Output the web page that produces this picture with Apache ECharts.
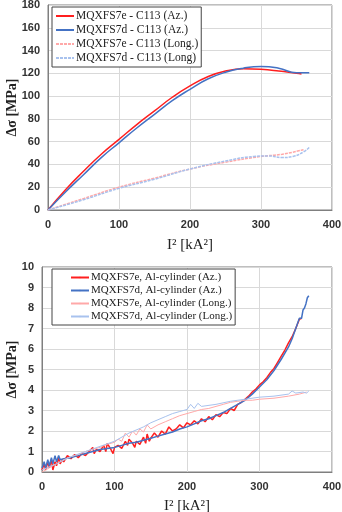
<!DOCTYPE html>
<html>
<head>
<meta charset="utf-8">
<script src="https://cdn.jsdelivr.net/npm/echarts@6/dist/echarts.min.js"></script>
<style>
html, body { margin: 0; padding: 0; background: #fff; }
#chart { width: 342px; height: 512px; }
</style>
</head>
<body>
<div id="chart"></div>
<script>
// 上图 C113
var topNames = ["MQXFS7e - C113 (Az.)", "MQXFS7d - C113 (Az.)", "MQXFS7e - C113 (Long.)", "MQXFS7d - C113 (Long)"];
var topRedAzX = [0, 25, 50, 75, 100, 125, 150, 175, 200, 225, 250, 275, 300, 325, 350, 357];
var topRedAzY = [0, 18, 34, 49, 62, 75, 87, 99, 109, 117, 122, 124, 123.5, 122, 120, 119.5];
var topBlueAzX = [0, 25, 50, 75, 100, 125, 150, 175, 200, 225, 250, 275, 300, 325, 350, 368];
var topBlueAzY = [0, 16, 31, 46, 59, 72, 84, 96, 106, 115, 121, 124.5, 126, 124.5, 120.5, 120.5];
var topRedLgX = [0, 50, 100, 150, 200, 250, 300, 330, 360];
var topRedLgY = [0, 10, 20, 28, 36, 42, 47, 49, 53];
var topBlueLgX = [0, 50, 100, 150, 200, 250, 290, 310, 330, 345, 360, 368];
var topBlueLgY = [0, 9, 19, 27, 36, 43, 47, 47.5, 46, 47, 51, 55];

// 下图 Al-cylinder
var botNames = ["MQXFS7e, Al-cylinder (Az.)", "MQXFS7d, Al-cylinder (Az.)", "MQXFS7e, Al-cylinder (Long.)", "MQXFS7d, Al-cylinder (Long.)"];
var botRedAzX = [0, 3, 5, 8, 10, 13, 15, 18, 20, 23, 25, 28, 30, 35, 40, 45, 50, 55, 60, 65, 70, 72, 75, 80, 85, 88, 90, 95, 98, 100, 105, 110, 115, 118, 120, 125, 128, 130, 135, 140, 143, 145, 148, 150, 155, 160, 165, 170, 175, 180, 185, 190, 195, 200, 205, 210, 215, 220, 225, 230, 235, 240, 245, 250, 255, 260, 265, 270, 275, 280, 285, 290, 295, 300, 305, 310, 315, 320, 325, 330, 335, 340, 345, 350, 355, 358];
var botRedAzY = [0.1, 0.4, 0.1, 0.5, 0.2, 0.6, 0.1, 0.5, 0.3, 0.7, 0.4, 0.6, 0.5, 0.8, 0.65, 0.85, 0.7, 0.9, 0.8, 1.0, 1.2, 0.9, 1.1, 1.0, 1.3, 1.0, 1.4, 1.1, 0.9, 1.2, 1.3, 1.15, 1.5, 1.3, 1.6, 1.4, 1.2, 1.5, 1.35, 1.7, 1.4, 1.85, 1.5, 1.65, 1.9, 1.7, 2.0, 1.85, 2.2, 2.0, 2.1, 2.3, 2.15, 2.4, 2.3, 2.5, 2.35, 2.6, 2.45, 2.7, 2.55, 2.8, 2.7, 2.9, 2.85, 3.1, 3.0, 3.3, 3.4, 3.55, 3.7, 3.9, 4.05, 4.25, 4.4, 4.6, 4.85, 5.05, 5.35, 5.65, 5.95, 6.3, 6.6, 7.0, 7.45, 7.5];
var botBlueAzX = [0, 3, 5, 8, 10, 13, 15, 18, 20, 23, 25, 30, 40, 50, 60, 70, 80, 90, 100, 110, 120, 130, 140, 150, 160, 170, 180, 190, 200, 210, 220, 230, 240, 250, 260, 270, 280, 290, 300, 310, 320, 330, 340, 345, 350, 355, 358, 360, 362, 364, 366, 368];
var botBlueAzY = [0.2, 0.5, 0.2, 0.6, 0.3, 0.7, 0.4, 0.8, 0.5, 0.8, 0.6, 0.65, 0.7, 0.8, 0.9, 1.0, 1.1, 1.15, 1.2, 1.3, 1.4, 1.45, 1.55, 1.65, 1.75, 1.85, 1.95, 2.1, 2.2, 2.35, 2.5, 2.6, 2.75, 2.9, 3.1, 3.3, 3.5, 3.8, 4.15, 4.5, 4.95, 5.5, 6.1, 6.5, 7.0, 7.5, 7.5, 7.9, 8.0, 8.2, 8.5, 8.6];
var botRedLgX = [0, 10, 20, 30, 40, 50, 60, 70, 80, 90, 100, 105, 110, 115, 120, 125, 130, 135, 140, 145, 150, 160, 170, 180, 190, 200, 210, 220, 230, 240, 250, 260, 270, 280, 290, 300, 320, 340, 355, 365];
var botRedLgY = [0, 0.2, 0.4, 0.6, 0.75, 0.85, 1.0, 1.1, 1.2, 1.35, 1.45, 1.6, 1.5, 1.9, 1.7, 2.0, 1.8, 2.1, 1.95, 2.3, 2.1, 2.3, 2.45, 2.6, 2.75, 2.85, 2.95, 3.05, 3.1, 3.2, 3.3, 3.4, 3.45, 3.5, 3.5, 3.55, 3.6, 3.7, 3.8, 3.9];
var botBlueLgX = [0, 20, 40, 60, 80, 100, 120, 140, 150, 160, 170, 180, 190, 200, 205, 210, 215, 220, 240, 260, 280, 300, 320, 340, 345, 350, 360, 365, 368];
var botBlueLgY = [0.1, 0.4, 0.75, 1.0, 1.25, 1.5, 1.9, 2.2, 2.4, 2.55, 2.7, 2.85, 2.95, 3.05, 3.3, 3.1, 3.35, 3.2, 3.3, 3.45, 3.55, 3.65, 3.7, 3.8, 3.95, 3.85, 3.9, 3.85, 3.95];

var xTicks = [0, 400, 100];

var RED = "#ff1f1f", BLUE = "#4472c4", LRED = "#ffa8a8", LBLUE = "#a8c2ee";

function pairs(xs, ys) {
    return xs.map(function (x, i) { return [x, ys[i]]; });
}

function line(name, idx, xs, ys, color, width, smooth, type) {
    return {
        name: name,
        type: "line",
        xAxisIndex: idx,
        yAxisIndex: idx,
        data: pairs(xs, ys),
        symbol: "none",
        smooth: smooth,
        lineStyle: { color: color, width: width, type: type || "solid" },
        itemStyle: { color: color },
        animation: false
    };
}

var tickFont = { color: "#333", fontSize: 11, fontWeight: "bold", fontFamily: "Liberation Sans" };
var gridLine = { show: true, lineStyle: { color: "#d9d9d9", width: 1 } };

function xAxis(idx, gap) {
    return {
        gridIndex: idx, type: "value", min: xTicks[0], max: xTicks[1], interval: xTicks[2],
        name: "I\u00b2 [kA\u00b2]", nameLocation: "middle", nameGap: gap, nameMoveOverlap: false,
        nameTextStyle: { fontFamily: "Liberation Serif", fontSize: 15, color: "#222" },
        axisLine: { lineStyle: { color: "#7f7f7f" } }, axisTick: { show: false },
        axisLabel: Object.assign({ margin: 9 }, tickFont), splitLine: gridLine
    };
}

function yAxis(idx, max, interval, gap) {
    return {
        gridIndex: idx, type: "value", min: 0, max: max, interval: interval,
        name: "\u0394\u03c3 [MPa]", nameLocation: "middle", nameGap: gap, nameMoveOverlap: false,
        nameTextStyle: { fontFamily: "Liberation Serif", fontSize: 14, fontWeight: "bold", color: "#222" },
        axisLine: { show: true, lineStyle: { color: "#7f7f7f" } }, axisTick: { show: false },
        axisLabel: Object.assign({ margin: 8 }, tickFont), splitLine: gridLine
    };
}

function legend(names, left, top, padLeft, size) {
    return {
        data: names,
        orient: "vertical",
        left: left, top: top,
        itemWidth: 18, itemHeight: 2, itemGap: 2,
        padding: [3, 3, 3, padLeft],
        borderColor: "#444", borderWidth: 1,
        backgroundColor: "#fff",
        textStyle: { fontFamily: "Liberation Serif", fontSize: size, color: "#222", padding: [0, 0, 0, -3] }
    };
}

var chart = echarts.init(document.getElementById("chart"));
chart.setOption({
    backgroundColor: "#fff",
    grid: [
        { left: 48, right: 10, top: 5, bottom: 302, containLabel: false, outerBoundsMode: "none", show: true, borderColor: "#7f7f7f", borderWidth: 1 },
        { left: 42, right: 10, top: 267, bottom: 40, containLabel: false, outerBoundsMode: "none", show: true, borderColor: "#7f7f7f", borderWidth: 1 }
    ],
    legend: [legend(topNames, 52, 7, 3, 11.5), legend(botNames, 52, 269, 18, 11)],
    xAxis: [xAxis(0, 28), xAxis(1, 27)],
    yAxis: [yAxis(0, 180, 20, 29), yAxis(1, 10, 1, 23)],
    series: [
        line(topNames[0], 0, topRedAzX, topRedAzY, RED, 1.5, true),
        line(topNames[1], 0, topBlueAzX, topBlueAzY, BLUE, 1.5, true),
        line(topNames[2], 0, topRedLgX, topRedLgY, LRED, 1.5, true, [3, 1]),
        line(topNames[3], 0, topBlueLgX, topBlueLgY, LBLUE, 1.5, true, [3, 1]),
        line(botNames[0], 1, botRedAzX, botRedAzY, RED, 1.5, false),
        line(botNames[1], 1, botBlueAzX, botBlueAzY, BLUE, 1.5, false),
        line(botNames[2], 1, botRedLgX, botRedLgY, LRED, 1, false),
        line(botNames[3], 1, botBlueLgX, botBlueLgY, LBLUE, 1, false)
    ]
});
</script>
</body>
</html>
